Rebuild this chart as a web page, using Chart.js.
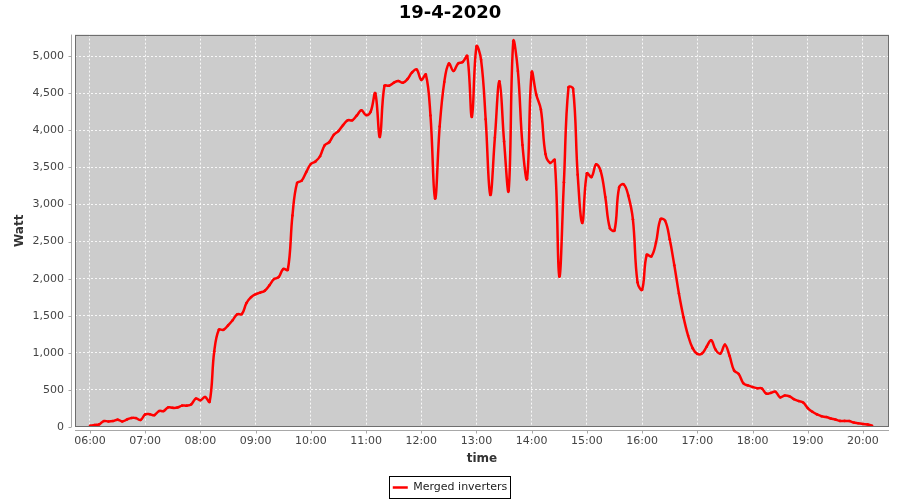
<!DOCTYPE html>
<html lang="en">
<head>
<meta charset="UTF-8">
<title>19-4-2020</title>
<script src="https://cdn.jsdelivr.net/npm/chart.js@4.4.0/dist/chart.umd.min.js"></script>
<style>
  html, body { margin: 0; padding: 0; background: #ffffff; }
  #wrap { width: 900px; height: 500px; }
</style>
</head>
<body>
<div id="wrap"><canvas id="chartPower" width="900" height="500"></canvas></div>
<script>
  // sample times, one every 5 minutes
  const times = [
    "06:00","06:05","06:10","06:15","06:20","06:25","06:30","06:35","06:40","06:45","06:50","06:55",
    "07:00","07:05","07:10","07:15","07:20","07:25","07:30","07:35","07:40","07:45","07:50","07:55",
    "08:00","08:05","08:10","08:15","08:20","08:25","08:30","08:35","08:40","08:45","08:50","08:55",
    "09:00","09:05","09:10","09:15","09:20","09:25","09:30","09:35","09:40","09:45","09:50","09:55",
    "10:00","10:05","10:10","10:15","10:20","10:25","10:30","10:35","10:40","10:45","10:50","10:55",
    "11:00","11:05","11:10","11:15","11:20","11:25","11:30","11:35","11:40","11:45","11:50","11:55",
    "12:00","12:05","12:10","12:15","12:20","12:25","12:30","12:35","12:40","12:45","12:50","12:55",
    "13:00","13:05","13:10","13:15","13:20","13:25","13:30","13:35","13:40","13:45","13:50","13:55",
    "14:00","14:05","14:10","14:15","14:20","14:25","14:30","14:35","14:40","14:45","14:50","14:55",
    "15:00","15:05","15:10","15:15","15:20","15:25","15:30","15:35","15:40","15:45","15:50","15:55",
    "16:00","16:05","16:10","16:15","16:20","16:25","16:30","16:35","16:40","16:45","16:50","16:55",
    "17:00","17:05","17:10","17:15","17:20","17:25","17:30","17:35","17:40","17:45","17:50","17:55",
    "18:00","18:05","18:10","18:15","18:20","18:25","18:30","18:35","18:40","18:45","18:50","18:55",
    "19:00","19:05","19:10","19:15","19:20","19:25","19:30","19:35","19:40","19:45","19:50","19:55",
    "20:00","20:05","20:10"
  ];

  // Merged inverters, Watt
  const watts = [
    16, 27, 35, 80, 75, 80, 99, 75, 100, 122, 120, 95,
    170, 172, 160, 215, 215, 265, 258, 262, 288, 288, 305, 383,
    360, 405, 340, 1018, 1310, 1311, 1370, 1440, 1520, 1522, 1670, 1750,
    1790, 1812, 1838, 1910, 1995, 2020, 2130, 2120, 2850, 3290, 3320, 3437,
    3545, 3580, 3650, 3797, 3840, 3940, 3990, 4070, 4135, 4135, 4200, 4270,
    4205, 4250, 4500, 3910, 4600, 4600, 4640, 4665, 4640, 4690, 4780, 4820,
    4680, 4750, 4200, 3080, 4050, 4650, 4900, 4800, 4900, 4920, 5000, 4180,
    5130, 4950, 4150, 3130, 3900, 4660, 3850, 3190, 5200, 4800, 3800, 3350,
    4780, 4480, 4280, 3680, 3560, 3600, 2030, 3300, 4580, 4560, 3400, 2750,
    3420, 3370, 3540, 3450, 3100, 2680, 2650, 3230, 3270, 3120, 2800, 1950,
    1850, 2320, 2300, 2480, 2800, 2780, 2530, 2180, 1800, 1480, 1230, 1060,
    985, 990, 1080, 1170, 1040, 990, 1110, 960, 760, 715, 590, 560,
    540, 523, 520, 450, 460, 475, 400, 425, 415, 375, 350, 330,
    255, 205, 170, 145, 135, 115, 100, 82, 82, 80, 60, 50,
    40, 35, 15
  ];

  const seriesName = "Merged inverters";
  const chartTitle = "19-4-2020";

  // tick values: hours on x (minutes after midnight), Watt on y
  const xTicks = [360, 420, 480, 540, 600, 660, 720, 780, 840, 900, 960, 1020, 1080, 1140, 1200];
  const yTicks = [0, 500, 1000, 1500, 2000, 2500, 3000, 3500, 4000, 4500, 5000];

  // axis range
  const xMin = 343.7;
  const xMax = 1228.3;
  const yMax = 5290;

  function toMinutes(s) {
    var p = s.split(":");
    return parseInt(p[0], 10) * 60 + parseInt(p[1], 10);
  }
  function hourLabel(m) {
    var h = Math.round(m / 60);
    return (h < 10 ? "0" + h : "" + h) + ":00";
  }

  const points = times.map(function (t, i) { return { x: toMinutes(t), y: watts[i] }; });

  // grey plot background, frame, offset axis lines and legend box
  const plotFrame = {
    id: "plotFrame",
    beforeDraw: function (chart) {
      var ctx = chart.ctx, a = chart.chartArea;
      ctx.save();
      ctx.fillStyle = "#cccccc";
      ctx.fillRect(a.left, a.top, a.right - a.left, a.bottom - a.top);
      ctx.restore();
    },
    afterDraw: function (chart) {
      var ctx = chart.ctx, a = chart.chartArea, sx = chart.scales.x, sy = chart.scales.y;
      ctx.save();
      ctx.lineWidth = 1;
      ctx.strokeStyle = "#6e6e6e";
      ctx.strokeRect(Math.round(a.left) + 0.5, Math.round(a.top) + 0.5,
                     Math.round(a.right - a.left) - 1, Math.round(a.bottom - a.top) - 1);

      ctx.strokeStyle = "#a8a8a8";
      ctx.beginPath();
      var ax = Math.round(a.left) - 3.5;
      ctx.moveTo(ax, a.top); ctx.lineTo(ax, a.bottom);
      sy.ticks.forEach(function (t) {
        var py = Math.round(sy.getPixelForValue(t.value)) + 0.5;
        ctx.moveTo(ax - 3, py); ctx.lineTo(ax, py);
      });
      var ay = Math.round(a.bottom) + 3.5;
      ctx.moveTo(a.left, ay); ctx.lineTo(a.right, ay);
      sx.ticks.forEach(function (t) {
        var px = Math.round(sx.getPixelForValue(t.value)) + 0.5;
        ctx.moveTo(px, ay); ctx.lineTo(px, ay + 3);
      });
      ctx.stroke();

      var hb = chart.legend.legendHitBoxes && chart.legend.legendHitBoxes[0];
      if (hb) {
        ctx.strokeStyle = "#000000";
        ctx.strokeRect(Math.round(hb.left) - 3.5, Math.round(hb.top) - 5.5,
                       Math.round(hb.width) + 7, Math.round(hb.height) + 11);
      }
      ctx.restore();
    }
  };

  Chart.defaults.font.family = "'DejaVu Sans', sans-serif";
  Chart.defaults.color = "#444444";

  const ctx = document.getElementById("chartPower").getContext("2d");
  const chart = new Chart(ctx, {
    type: "line",
    data: {
      datasets: [{
        label: seriesName,
        data: points,
        borderColor: "#ff0000",
        backgroundColor: "#ff0000",
        borderWidth: 2.5,
        tension: 0.4,
        pointRadius: 1.3,
        pointBorderWidth: 0,
        fill: false
      }]
    },
    options: {
      responsive: false,
      animation: false,
      layout: { padding: { left: 0, right: 0, top: 0, bottom: -3 } },
      plugins: {
        title: {
          display: true,
          text: chartTitle,
          color: "#000000",
          font: { size: 18, weight: "bold" },
          padding: { top: 3, bottom: 10 }
        },
        legend: {
          position: "bottom",
          labels: {
            color: "#222222",
            font: { size: 11 },
            usePointStyle: true,
            pointStyle: "line",
            pointStyleWidth: 15,
            padding: 10,
            generateLabels: function (c) {
              var items = Chart.defaults.plugins.legend.labels.generateLabels(c);
              items.forEach(function (it) {
                it.lineWidth = 2.5;
                it.strokeStyle = "#ff0000";
                it.pointStyle = "line";
              });
              return items;
            }
          }
        },
        tooltip: { enabled: false }
      },
      scales: {
        x: {
          type: "linear",
          min: xMin,
          max: xMax,
          afterBuildTicks: function (s) {
            s.ticks = xTicks.map(function (v) { return { value: v }; });
          },
          afterFit: function (s) { s.height = 45; s.paddingRight = 11; },
          ticks: {
            autoSkip: false,
            maxRotation: 0,
            padding: 8,
            font: { size: 11 },
            color: "#444444",
            callback: function (v) { return hourLabel(v); }
          },
          grid: {
            color: "rgba(255,255,255,0.85)",
            lineWidth: 1,
            drawTicks: false
          },
          border: { display: false, dash: [2, 2] },
          title: {
            display: true,
            text: "time",
            color: "#333333",
            font: { size: 12, weight: "bold" },
            padding: { top: 0, bottom: 6 }
          }
        },
        y: {
          min: 0,
          max: yMax,
          afterBuildTicks: function (s) {
            s.ticks = yTicks.map(function (v) { return { value: v }; });
          },
          afterFit: function (s) { s.width = 75; },
          ticks: {
            padding: 11,
            font: { size: 11 },
            color: "#444444",
            callback: function (v) { return v.toLocaleString("en-US"); }
          },
          grid: {
            color: "rgba(255,255,255,0.85)",
            lineWidth: 1,
            drawTicks: false
          },
          border: { display: false, dash: [2, 2] },
          title: {
            display: true,
            text: "Watt",
            color: "#333333",
            font: { size: 12, weight: "bold" },
            padding: { top: 13, bottom: 0 }
          }
        }
      }
    },
    plugins: [plotFrame]
  });
</script>
</body>
</html>
